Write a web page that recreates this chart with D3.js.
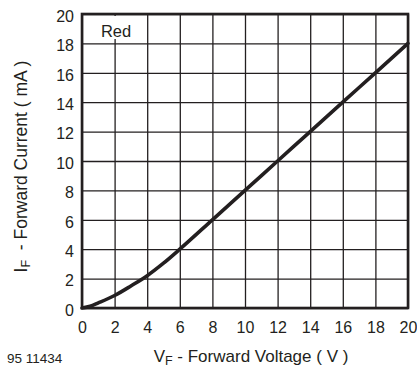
<!DOCTYPE html>
<html>
<head>
<meta charset="utf-8">
<script src="https://cdn.jsdelivr.net/npm/d3@7"></script>
<style>
  body { margin: 0; background: #fff; }
  text { font-family: "Liberation Sans", Arial, sans-serif; fill: #231f20; }
</style>
</head>
<body>
<div id="chart"></div>
<script>
// forward voltage (V) and forward current (mA)
const voltage = [0, 0.5, 1, 2, 3, 4, 5, 6, 8, 10, 12, 14, 16, 18, 20]
const current = [0, 0.12, 0.35, 0.85, 1.5, 2.2, 3.05, 4, 6, 8, 10, 12, 14, 16, 18]
const xTicks = [0, 2, 4, 6, 8, 10, 12, 14, 16, 18, 20]
const yTicks = [0, 2, 4, 6, 8, 10, 12, 14, 16, 18, 20]

const width = 417,
  height = 367
const plotLeft = 82, plotRight = 408, plotTop = 14, plotBottom = 308

let svg = d3.select('#chart')
  .append('svg')
  .attr('width', width)
  .attr('height', height)

const x = d3.scaleLinear().domain([0, 20]).range([plotLeft, plotRight])
const y = d3.scaleLinear().domain([0, 20]).range([plotBottom, plotTop])
const ink = '#231f20'

// grid
svg.append('g')
  .attr('transform', `translate(0,${plotBottom})`)
  .call(d3.axisBottom(x).tickValues(xTicks).tickSize(-(plotBottom - plotTop)).tickFormat(d => d))
  .call(g => g.select('.domain').remove())
  .call(g => g.selectAll('line').attr('stroke', ink).attr('stroke-width', 1.3))
  .call(g => g.selectAll('text').attr('font-size', 16).attr('y', 25).attr('dy', 0).attr('fill', ink))

svg.append('g')
  .attr('transform', `translate(${plotLeft},0)`)
  .call(d3.axisLeft(y).tickValues(yTicks).tickSize(-(plotRight - plotLeft)).tickFormat(d => d))
  .call(g => g.select('.domain').remove())
  .call(g => g.selectAll('line').attr('stroke', ink).attr('stroke-width', 1.3))
  .call(g => g.selectAll('text').attr('font-size', 16).attr('x', -8).attr('dy', '0.45em').attr('fill', ink))

// frame
svg.append('rect')
  .attr('x', plotLeft).attr('y', plotTop)
  .attr('width', plotRight - plotLeft).attr('height', plotBottom - plotTop)
  .attr('fill', 'none').attr('stroke', ink).attr('stroke-width', 2.6)

// label, centred on the x = 2 grid line with a white patch behind it
svg.append('rect')
  .attr('x', x(2) - 19).attr('y', plotTop + 2)
  .attr('width', 38).attr('height', 23)
  .attr('fill', '#fff')
svg.append('text')
  .attr('x', x(2) + 1.5).attr('y', 36.5)
  .attr('text-anchor', 'middle').attr('font-size', 16.5)
  .text('Red')

// curve
const line = d3.line()
  .x((d, i) => x(voltage[i]))
  .y(d => y(d))
  .curve(d3.curveMonotoneX)

svg.append('path')
  .datum(current)
  .attr('d', line)
  .attr('fill', 'none')
  .attr('stroke', ink)
  .attr('stroke-width', 3.6)
  .attr('stroke-linecap', 'round')

// axis titles
let xt = svg.append('text')
  .attr('x', 251).attr('y', 361.5)
  .attr('text-anchor', 'middle').attr('font-size', 17)
xt.append('tspan').text('V')
xt.append('tspan').attr('font-size', 12.5).attr('dy', 3).text('F')
xt.append('tspan').attr('dy', -3).text(' - Forward Voltage ( V )')

let yt = svg.append('text')
  .attr('transform', `translate(27,166.5) rotate(-90)`)
  .attr('text-anchor', 'middle').attr('font-size', 17.5)
  .style('white-space', 'pre')
yt.append('tspan').text('I')
yt.append('tspan').attr('font-size', 12.5).attr('dy', 3).text('F')
yt.append('tspan').attr('dy', -3).text('  - Forward Current ( mA )')

svg.append('text')
  .attr('x', 7).attr('y', 363)
  .attr('font-size', 13.5)
  .text('95 11434')
</script>
</body>
</html>
